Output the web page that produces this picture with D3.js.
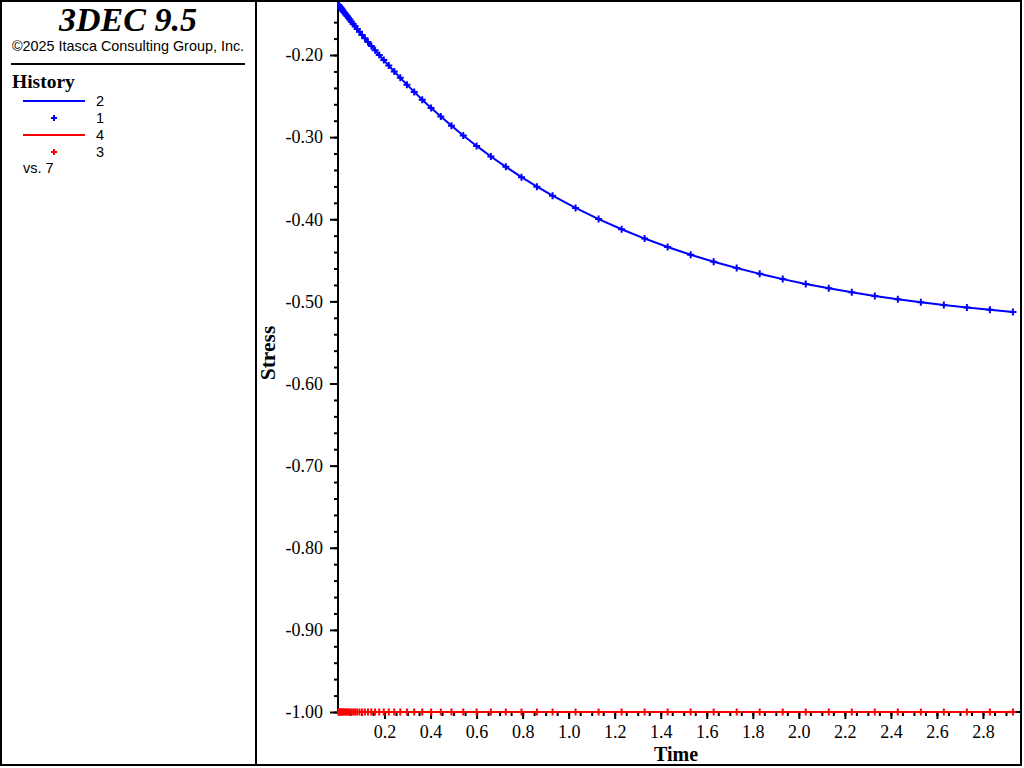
<!DOCTYPE html>
<html><head><meta charset="utf-8">
<script src="https://cdn.jsdelivr.net/npm/d3@7"></script>
<style>body{margin:0;background:#fff}svg{display:block}</style>
</head><body>
<svg id="c" width="1024" height="768"></svg>
<script>
// ---- data ----
const times = [0, 0.0020, 0.0042, 0.0066, 0.0093, 0.0122, 0.0154, 0.0190, 0.0229, 0.0272,
  0.0319, 0.0371, 0.0428, 0.0491, 0.0560, 0.0636, 0.0720, 0.0811, 0.0912, 0.1024,
  0.1146, 0.1280, 0.1428, 0.1591, 0.1770, 0.1967, 0.2184, 0.2422, 0.2684, 0.2973,
  0.3290, 0.3639, 0.4023, 0.4445, 0.4910, 0.542, 0.600, 0.662, 0.727, 0.795,
  0.862, 0.930, 1.03, 1.13, 1.23, 1.33, 1.43, 1.53, 1.63, 1.73,
  1.83, 1.93, 2.03, 2.13, 2.23, 2.33, 2.43, 2.53, 2.63, 2.73, 2.83, 2.93];
const stressHist2 = [-0.1390, -0.1398, -0.1406, -0.1415, -0.1425, -0.1435, -0.1447, -0.1460, -0.1475, -0.1490,
  -0.1508, -0.1526, -0.1547, -0.1569, -0.1594, -0.1621, -0.1650, -0.1682, -0.1717, -0.1755,
  -0.1796, -0.1841, -0.1890, -0.1943, -0.2000, -0.2062, -0.2129, -0.2201, -0.2278, -0.2361,
  -0.2449, -0.2544, -0.2644, -0.2750, -0.2862, -0.2980, -0.3107, -0.3236, -0.3362, -0.3487,
  -0.3603, -0.3713, -0.3862, -0.3998, -0.4122, -0.4235, -0.4338, -0.4432, -0.4517, -0.4594,
  -0.4665, -0.4729, -0.4788, -0.4841, -0.4890, -0.4934, -0.4974, -0.5011, -0.5045, -0.5075, -0.5103, -0.5128];
const stressHist4 = times.map(() => -1.0); // constant applied stress of -1.00 at every sample
const xMajorTicks = [0.2, 0.4, 0.6, 0.8, 1.0, 1.2, 1.4, 1.6, 1.8, 2.0, 2.2, 2.4, 2.6, 2.8];
const xMinorTicks = d3.range(1, 59).map(i => +(i * 0.05).toFixed(2));
const yMajorTicks = [-0.20, -0.30, -0.40, -0.50, -0.60, -0.70, -0.80, -0.90, -1.00];
const yMinorTicks = d3.range(0, 43).map(i => +(-1.0 + i * 0.02).toFixed(2));
const legendItems = [
  {label: "2", color: "#0000ff", kind: "line"},
  {label: "1", color: "#0000ff", kind: "plus"},
  {label: "4", color: "#ff0000", kind: "line"},
  {label: "3", color: "#ff0000", kind: "plus"}
];

// ---- drawing ----
const svg = d3.select("#c");
const serif = "'Liberation Serif','Times New Roman',serif";
const sans = "'Liberation Sans',Arial,sans-serif";

// frame
svg.append("rect").attr("x", 1).attr("y", 1).attr("width", 1020).attr("height", 764)
  .attr("fill", "none").attr("stroke", "#000").attr("stroke-width", 2);
svg.append("line").attr("x1", 256).attr("x2", 256).attr("y1", 0).attr("y2", 766)
  .attr("stroke", "#000").attr("stroke-width", 2);

// left panel
svg.append("text").attr("x", 128).attr("y", 31).attr("text-anchor", "middle")
  .style("font-family", serif).style("font-weight", "bold").style("font-style", "italic")
  .style("font-size", "34px").text("3DEC 9.5");
svg.append("text").attr("x", 128).attr("y", 51).attr("text-anchor", "middle")
  .style("font-family", sans).style("font-size", "14.4px").text("©2025 Itasca Consulting Group, Inc.");
svg.append("line").attr("x1", 11).attr("x2", 245).attr("y1", 64).attr("y2", 64)
  .attr("stroke", "#000").attr("stroke-width", 2);
svg.append("text").attr("x", 12).attr("y", 88)
  .style("font-family", serif).style("font-weight", "bold").style("font-size", "19.5px").text("History");

const plusPath = s => `M${-s},0H${s}M0,${-s}V${s}`;
legendItems.forEach((d, i) => {
  const yy = 101 + i * 17;
  if (d.kind === "line") {
    svg.append("line").attr("x1", 23).attr("x2", 85).attr("y1", yy).attr("y2", yy)
      .attr("stroke", d.color).attr("stroke-width", 2);
  } else {
    svg.append("path").attr("transform", `translate(54,${yy})`).attr("d", plusPath(3))
      .attr("stroke", d.color).attr("stroke-width", 2);
  }
  svg.append("text").attr("x", 96).attr("y", yy + 5)
    .style("font-family", sans).style("font-size", "14.5px").text(d.label);
});
svg.append("text").attr("x", 23).attr("y", 173)
  .style("font-family", sans).style("font-size", "14.5px").text("vs. 7");

// scales
const x = d3.scaleLinear().domain([0, 2.95]).range([338.5, 1017.5]);
const y = d3.scaleLinear().domain([-1.0, -0.1385]).range([712, 4.5]);

// y axis
const gy = svg.append("g").attr("transform", "translate(338,0)");
gy.call(d3.axisLeft(y).tickValues(yMinorTicks).tickSize(4).tickSizeOuter(0).tickFormat(""));
gy.selectAll("line").attr("stroke-width", 2);
const gy2 = svg.append("g").attr("transform", "translate(338,0)");
gy2.call(d3.axisLeft(y).tickValues(yMajorTicks).tickSize(8).tickSizeOuter(0).tickPadding(7)
  .tickFormat(d => d.toFixed(2)));
gy2.selectAll("line").attr("stroke-width", 2);
gy2.selectAll("text").style("font-family", serif).style("font-size", "18px").attr("fill", "#000");
svg.selectAll(".domain").remove();
svg.append("line").attr("x1", 338).attr("x2", 338).attr("y1", 2).attr("y2", 713)
  .attr("stroke", "#000").attr("stroke-width", 2);

// x axis
const gx = svg.append("g").attr("transform", "translate(0,712)");
gx.call(d3.axisBottom(x).tickValues(xMinorTicks).tickSize(4).tickSizeOuter(0).tickFormat(""));
gx.selectAll("line").attr("stroke-width", 2);
const gx2 = svg.append("g").attr("transform", "translate(0,712)");
gx2.call(d3.axisBottom(x).tickValues(xMajorTicks).tickSize(7).tickSizeOuter(0).tickPadding(6)
  .tickFormat(d => d.toFixed(1)));
gx2.selectAll("line").attr("stroke-width", 2);
gx2.selectAll("text").style("font-family", serif).style("font-size", "18px").attr("fill", "#000");
gx.select(".domain").remove(); gx2.select(".domain").remove();
svg.append("line").attr("x1", 337).attr("x2", 1020).attr("y1", 712).attr("y2", 712)
  .attr("stroke", "#000").attr("stroke-width", 2);

// axis titles
svg.append("text").attr("x", 676).attr("y", 761).attr("text-anchor", "middle")
  .style("font-family", serif).style("font-weight", "bold").style("font-size", "20px").text("Time");
svg.append("text").attr("transform", "translate(275,353) rotate(-90)").attr("text-anchor", "middle")
  .style("font-family", serif).style("font-weight", "bold").style("font-size", "21.5px").text("Stress");

// series
svg.append("clipPath").attr("id", "pc").append("rect")
  .attr("x", 337).attr("y", 2).attr("width", 683).attr("height", 716);
const plotG = svg.append("g").attr("clip-path", "url(#pc)");
function drawSeries(vals, color) {
  const pts = times.map((t, i) => [t, vals[i]]);
  plotG.append("path").datum(pts)
    .attr("d", d3.line().x(d => x(d[0])).y(d => y(d[1])))
    .attr("fill", "none").attr("stroke", color).attr("stroke-width", 2);
  plotG.selectAll(null).data(pts).enter().append("path")
    .attr("transform", d => `translate(${x(d[0])},${y(d[1])})`)
    .attr("d", plusPath(3.5)).attr("stroke", color).attr("stroke-width", 2).attr("fill", "none");
}
drawSeries(stressHist2, "#0000ff");
drawSeries(stressHist4, "#ff0000");
</script>
</body></html>
